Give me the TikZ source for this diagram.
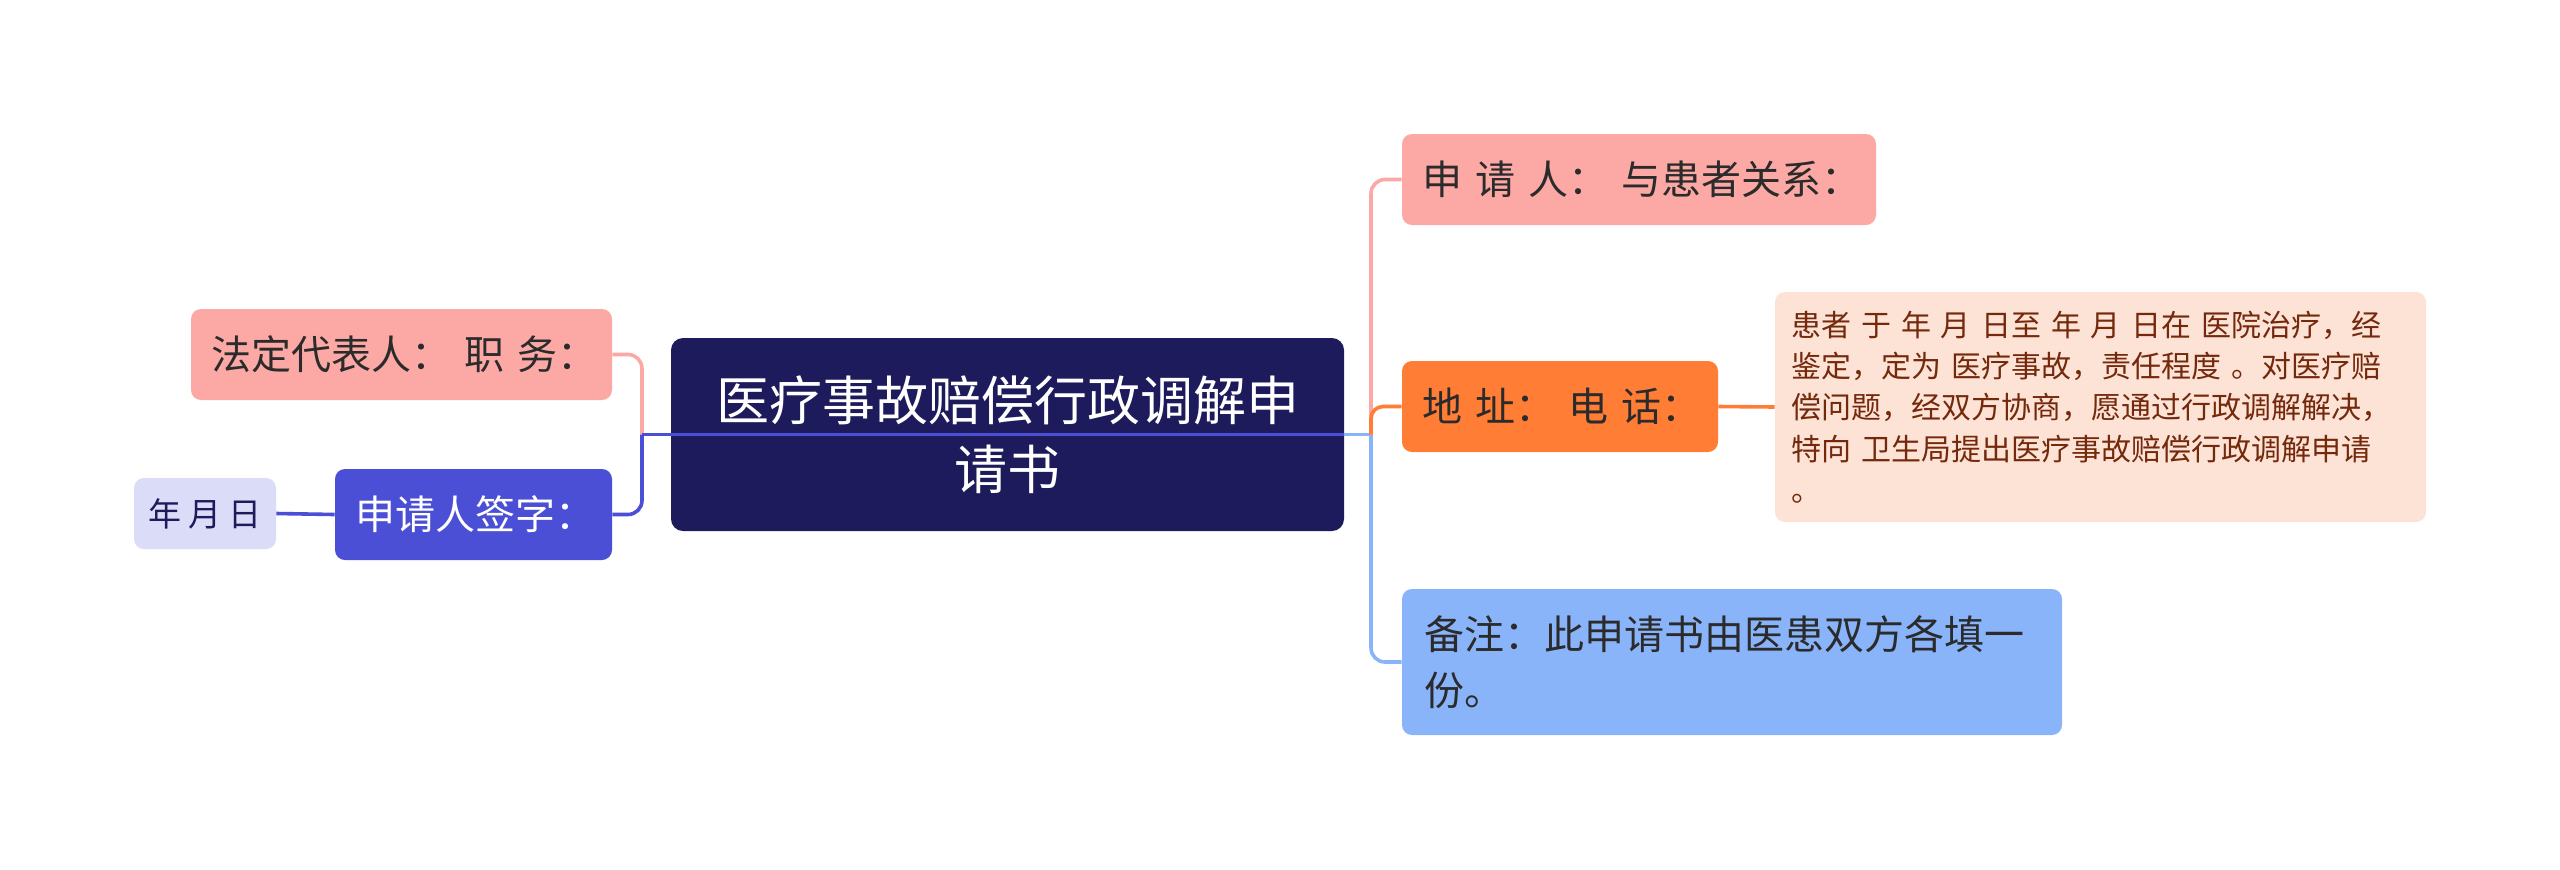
\documentclass[tikz,border=0pt]{standalone}
\usepackage{fontspec}
\newfontfamily\cjk{Noto Sans CJK SC}
\definecolor{rootc}{HTML}{1E1B5C}
\definecolor{pinkc}{HTML}{FCA9A6}
\definecolor{bluec}{HTML}{4A4FD6}
\definecolor{lavc}{HTML}{DBDCF7}
\definecolor{orangec}{HTML}{FF7D35}
\definecolor{peachc}{HTML}{FDE3D6}
\definecolor{lbluec}{HTML}{8AB4FA}
\definecolor{txt}{HTML}{2B2B2B}
\definecolor{desctxt}{HTML}{74290C}
\begin{document}
\begin{tikzpicture}[x=0.5pt,y=-0.5pt,
  box/.style={rounded corners=5pt, inner ysep=0pt, inner xsep=10pt, align=left,
    font=\cjk\fontsize{20pt}{27.75pt}\selectfont, text=txt},
  conn/.style={line width=1.8pt},
  rc/.style={rounded corners=7pt}]
\useasboundingbox[fill=white] (0,0) rectangle (2560,869);

\coordinate (lj) at (642,434.5);
\coordinate (rj) at (1371,434.5);

% nodes
\node[box, fill=rootc, text=white, align=center, rounded corners=6pt,
  minimum width=336.5pt, minimum height=96.5pt,
  font=\cjk\fontsize{26.5pt}{34.3pt}\selectfont] (root) at (1007.5,434.5)
  {医疗事故赔偿行政调解申\\请书};
\node[box, fill=pinkc, text width=190.5pt, minimum height=45.5pt] (legal) at (401.5,354.5)
  {\mbox{法定代表人： 职 务：}};
\node[box, fill=bluec, text=white, text width=118.5pt, minimum height=45.5pt] (sign) at (473.5,514.5)
  {\mbox{申请人签字：}};
\node[box, fill=lavc, text=rootc, align=center, inner xsep=3pt, minimum width=71pt, minimum height=35.5pt,
  font=\cjk\fontsize{16.5pt}{20pt}\selectfont] (date) at (205,513.5)
  {年 月 日};
\node[box, fill=pinkc, text width=217pt, minimum height=45.5pt] (app) at (1639,179.5)
  {\mbox{申 请 人： 与患者关系：}};
\node[box, fill=orangec, text width=138pt, minimum height=45.5pt] (addr) at (1560,406.5)
  {\mbox{地 址： 电 话：}};
\node[box, fill=peachc, text=desctxt, inner xsep=8pt, text width=309.5pt, minimum height=115pt,
  font=\cjk\fontsize{15pt}{20.6pt}\selectfont] (desc) at (2100.5,407)
  {患者 于 年 月 日至 年 月 日在 医院治疗，经\\鉴定，定为 医疗事故，责任程度 。对医疗赔\\偿问题，经双方协商，愿通过行政调解解决，\\特向 卫生局提出医疗事故赔偿行政调解申请\\。};
\node[box, fill=lbluec, inner xsep=11pt, text width=308pt, minimum height=73pt] (note) at (1732,662)
  {备注：此申请书由医患双方各填一\\份。};

% connectors
\draw[conn, pinkc, rc] (lj) |- (legal.east);
\draw[conn, bluec, rc] (lj) |- (sign.east);
\draw[conn, bluec] (sign.west) -- (date.east);
\draw[conn, lbluec] (root.east) -- (rj);
\draw[conn, pinkc, rc] (rj) |- (app.west);
\draw[conn, lbluec, rc] (rj) |- (note.west);
\draw[conn, orangec, rounded corners=6pt] (rj) |- (addr.west);
\draw[conn, orangec] (addr.east) -- (desc.west);
\draw[conn, bluec] (root.east) -- (lj);
\end{tikzpicture}
\end{document}
